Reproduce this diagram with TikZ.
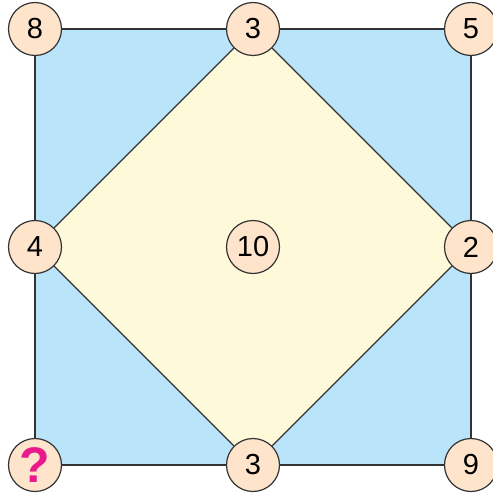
\documentclass[tikz,border=0pt]{standalone}
\usepackage{fontspec}
\setmainfont{Liberation Sans}
\usepackage{xcolor}
\usetikzlibrary{backgrounds}

\definecolor{sqblue}{HTML}{B9E4F9}
\definecolor{diayellow}{HTML}{FEF9D8}
\definecolor{numfill}{HTML}{FDE4CB}
\definecolor{qpink}{HTML}{EA1A8C}
\definecolor{edgegray}{HTML}{333333}

\begin{document}
\begin{tikzpicture}[
    x=1pt, y=-1pt,
    num/.style={circle, draw=edgegray, line width=1.2pt, fill=numfill,
      minimum size=53pt, inner sep=0pt, font=\fontsize{29}{31}\selectfont},
    edge/.style={draw=edgegray, line width=1.3pt}
  ]
  \useasboundingbox (0,0) rectangle (492,497);
  \node[num] (tl) at (35,29) {8};
  \node[num] (tm) at (253,29) {3};
  \node[num] (tr) at (471,29) {5};
  \node[num] (ml) at (35,247) {4};
  \node[num] (c) at (253,247) {10};
  \node[num] (mr) at (471,247) {2};
  \node[num] (bl) at (35,465) {\textcolor{qpink}{\fontsize{50}{52}\selectfont\bfseries ?}};
  \node[num] (bm) at (253,465) {3};
  \node[num] (br) at (471,465) {9};
  \begin{scope}[on background layer]
    \fill[sqblue] (tl.center) -- (tr.center) -- (br.center) -- (bl.center) -- cycle;
    \fill[diayellow] (tm.center) -- (mr.center) -- (bm.center) -- (ml.center) -- cycle;
  \end{scope}
  \draw[edge] (tl) -- (tm);
  \draw[edge] (tm) -- (tr);
  \draw[edge] (tr) -- (mr);
  \draw[edge] (mr) -- (br);
  \draw[edge] (br) -- (bm);
  \draw[edge] (bm) -- (bl);
  \draw[edge] (bl) -- (ml);
  \draw[edge] (ml) -- (tl);
  \draw[edge] (tm) -- (mr);
  \draw[edge] (mr) -- (bm);
  \draw[edge] (bm) -- (ml);
  \draw[edge] (ml) -- (tm);
\end{tikzpicture}
\end{document}
